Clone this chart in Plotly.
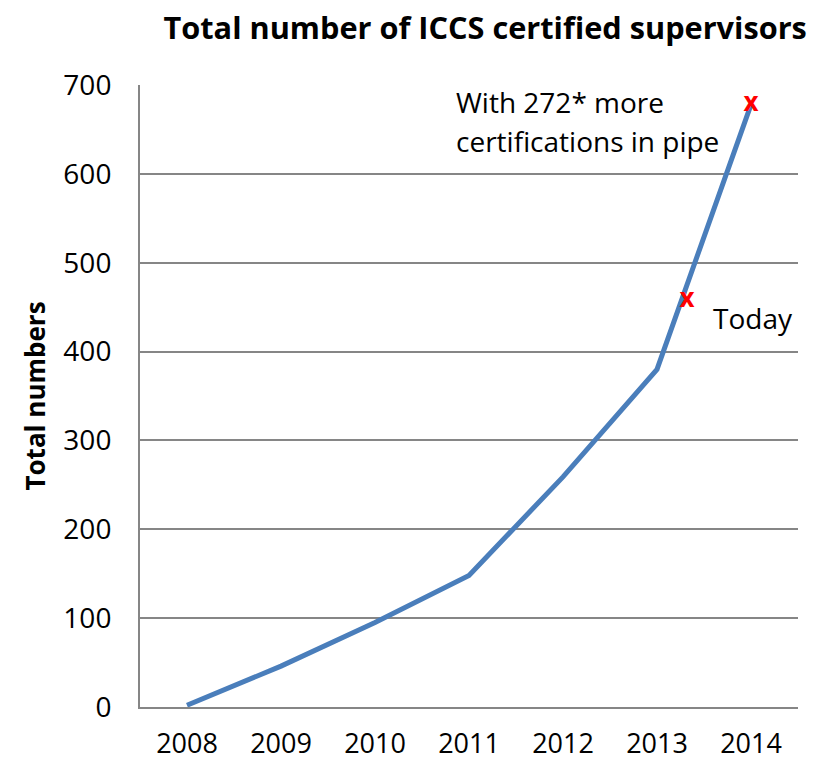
import plotly.graph_objects as go

years = ["2008", "2009", "2010", "2011", "2012", "2013", "2014"]
totals = [2, 46, 95, 148, 259, 380, 678]

# Red "x" markers: (category position, value)
mark_x = [5.32, 6]
mark_y = [458, 678]

FONT = "Open Sans"

fig = go.Figure()
fig.add_trace(go.Scatter(
    x=list(range(len(years))), y=totals, mode="lines",
    line=dict(color="#4A7EBB", width=5), showlegend=False, hoverinfo="skip"))
fig.add_trace(go.Scatter(
    x=mark_x, y=mark_y, mode="text", text=["<b>x</b>", "<b>x</b>"],
    textfont=dict(family=FONT, size=26, color="#FF0000"),
    textposition="middle center", showlegend=False, hoverinfo="skip"))

for txt, yv in [("With 272* more", 681), ("certifications in pipe", 637)]:
    fig.add_annotation(x=2.84, y=yv, xref="x", yref="y", xanchor="left", yanchor="middle",
                       text=txt, showarrow=False, align="left",
                       font=dict(family=FONT, size=28, color="#000000"))
fig.add_annotation(x=5.575, y=438, xref="x", yref="y", xanchor="left", yanchor="middle",
                   text="Today", showarrow=False, align="left",
                   font=dict(family=FONT, size=28, color="#000000"))

fig.update_layout(
    width=821, height=762,
    margin=dict(l=140, r=23, t=85, b=55),
    paper_bgcolor="white", plot_bgcolor="white",
    title=dict(text="<b>Total number of ICCS certified supervisors</b>",
               x=0.591, xanchor="center", y=0.963, yanchor="middle",
               font=dict(family=FONT, size=30.7, color="#000000")),
    font=dict(family=FONT, color="#000000"),
)
fig.update_xaxes(
    tickmode="array", tickvals=list(range(len(years))), ticktext=years,
    range=[-0.5, 6.5], showgrid=False, zeroline=False, automargin=False,
    showline=True, linecolor="#868686", linewidth=2,
    ticks="", ticklabelstandoff=12, tickfont=dict(family=FONT, size=27))
fig.update_yaxes(
    range=[0, 700], dtick=100, showgrid=True, gridcolor="#868686", gridwidth=1.5,
    zeroline=False, showline=True, linecolor="#868686", linewidth=2, automargin=False,
    ticks="", ticklabelstandoff=21, tickfont=dict(family=FONT, size=28),
    title=dict(text="<b>Total numbers</b>", standoff=10,
               font=dict(family=FONT, size=26)))

fig.write_html("out.html", config={"displayModeBar": False},
               post_script="document.body.style.margin='0px';")
